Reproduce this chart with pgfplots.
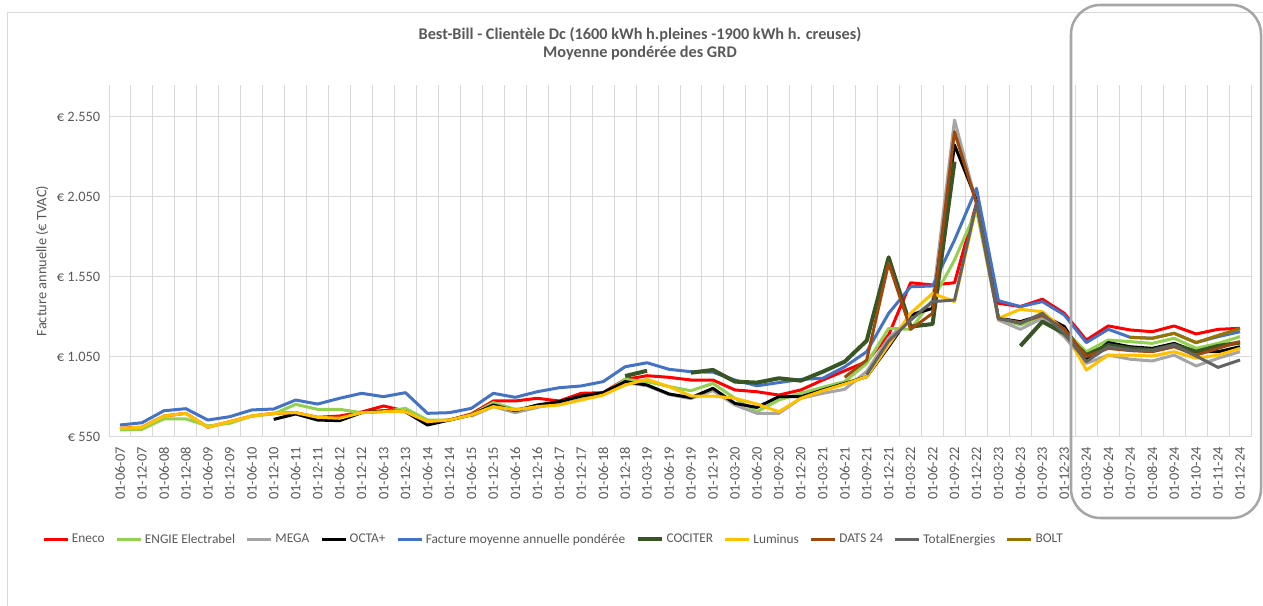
\documentclass[border=0pt]{standalone}
\usepackage{pgfplots}
\pgfplotsset{compat=1.18}
\usepackage{pgfplotstable}
\usepackage{fontspec}
\setmainfont{Carlito}
\definecolor{cEneco}{HTML}{FF0000}
\definecolor{cEngie}{HTML}{92D050}
\definecolor{cMega}{HTML}{A5A5A5}
\definecolor{cOcta}{HTML}{000000}
\definecolor{cAvg}{HTML}{4472C4}
\definecolor{cCociter}{HTML}{375623}
\definecolor{cLuminus}{HTML}{FFC000}
\definecolor{cDats}{HTML}{9E480E}
\definecolor{cTotal}{HTML}{636363}
\definecolor{cBolt}{HTML}{997300}
\definecolor{gridgray}{HTML}{D9D9D9}
\definecolor{labelgray}{HTML}{595959}
\definecolor{framegray}{HTML}{A6A6A6}

\pgfplotstableread{
i eneco engie mega octa avg cociter luminus dats total bolt
0 604 594 nan nan 625 nan 604 nan nan nan
1 611 598 nan nan 639 nan 611 nan nan nan
2 681 663 nan nan 714 nan 681 nan nan nan
3 698 663 nan nan 727 nan 698 nan nan nan
4 611 619 nan nan 656 nan 611 nan nan nan
5 646 636 nan nan 677 nan 646 nan nan nan
6 681 681 nan nan 719 nan 681 nan nan nan
7 698 694 nan 660 725 nan 698 nan nan nan
8 702 754 nan 694 781 nan 702 nan nan nan
9 673 723 nan 656 756 nan 673 nan nan nan
10 681 723 nan 652 792 nan 667 nan nan nan
11 706 702 nan 702 823 nan 702 nan nan nan
12 744 708 nan 714 802 nan 708 nan nan nan
13 712 729 nan 708 827 nan 708 nan nan nan
14 648 656 nan 625 698 nan 646 nan nan nan
15 656 656 nan 656 702 nan 656 nan nan nan
16 694 688 680 688 729 nan 688 nan nan nan
17 775 765 740 750 823 nan 740 nan nan nan
18 775 723 702 714 798 nan 719 nan nan nan
19 792 740 735 750 833 nan 740 nan nan nan
20 775 754 765 771 858 nan 750 nan nan nan
21 823 786 800 806 869 nan 781 nan nan nan
22 827 817 825 827 896 nan 812 nan nan nan
23 910 910 890 896 989 931 875 nan nan nan
24 933 896 870 875 1014 964 910 nan nan nan
25 923 865 815 819 973 nan 865 nan nan nan
26 906 839 790 796 958 952 806 nan nan nan
27 906 885 840 854 955 969 806 nan nan nan
28 844 792 750 760 906 896 792 nan nan nan
29 833 708 698 735 870 890 756 nan nan nan
30 812 781 698 802 890 917 708 nan nan nan
31 844 823 792 802 910 902 792 nan nan nan
32 906 861 823 844 917 958 839 nan nan nan
33 964 896 848 885 989 1021 881 923 nan nan
34 1021 1010 960 927 1083 1152 927 1031 940 nan
35 1188 1229 1169 1114 1323 1673 1125 1636 1150 nan
36 1514 1223 1292 1313 1489 1240 1323 1223 1280 nan
37 1500 1406 1396 1354 1494 1256 1448 1323 1396 nan
38 1514 1656 2531 2375 1781 2271 1396 2458 1406 nan
39 2010 1969 2010 2031 2104 nan 1990 2010 2010 nan
40 1386 1290 1281 1292 1402 nan 1292 1290 1292 nan
41 1365 1250 1223 1271 1365 1119 1348 1265 1260 nan
42 1411 1300 1292 1313 1396 1271 1333 1310 1323 nan
43 1323 1215 1177 1240 1313 1198 1219 1225 1198 nan
44 1156 1083 1010 1031 1140 1062 969 1052 1021 nan
45 1244 1156 1062 1140 1223 1125 1062 1104 1114 nan
46 1219 1146 1036 1114 1173 1104 1062 1090 1094 1173
47 1208 1135 1025 1104 1167 1094 1056 1083 1090 1167
48 1244 1167 1062 1135 1198 1125 1083 1114 1125 1198
49 1194 1104 994 1083 1140 1083 1042 1062 1056 1140
50 1223 1135 1042 1083 1177 1119 1062 1104 985 1185
51 1229 1177 1083 1114 1208 1140 1104 1146 1031 1228
}\data

\begin{document}
\begin{tikzpicture}
\begin{scope}[x=0.75pt,y=0.75pt]
\useasboundingbox (0,0) rectangle (1263,606);
\fill[white] (0,0) rectangle (1263,606);
\draw[gridgray, line width=0.75pt] (7,0) -- (7,593) -- (1263,593);
\end{scope}
\begin{axis}[
  at={(81.75pt,126.75pt)}, anchor=south west,
  width=856.5pt, height=264pt, scale only axis,
  xmin=-0.5, xmax=51.5, ymin=550, ymax=2750,
  xtick={0,...,51},
  xticklabels={01-06-07,01-12-07,01-06-08,01-12-08,01-06-09,01-12-09,01-06-10,01-12-10,01-06-11,01-12-11,01-06-12,01-12-12,01-06-13,01-12-13,01-06-14,01-12-14,01-06-15,01-12-15,01-06-16,01-12-16,01-06-17,01-12-17,01-06-18,01-12-18,01-03-19,01-06-19,01-09-19,01-12-19,01-03-20,01-06-20,01-09-20,01-12-20,01-03-21,01-06-21,01-09-21,01-12-21,01-03-22,01-06-22,01-09-22,01-12-22,01-03-23,01-06-23,01-09-23,01-12-23,01-03-24,01-06-24,01-07-24,01-08-24,01-09-24,01-10-24,01-11-24,01-12-24},
  minor xtick={-0.5,0.5,...,51.5},
  xminorgrids, ymajorgrids,
  ytick={550,1050,1550,2050,2550},
  yticklabels={€ 550,€ 1.050,€ 1.550,€ 2.050,€ 2.550},
  grid style={draw=gridgray, line width=0.75pt},
  minor grid style={draw=gridgray, line width=0.75pt},
  axis line style={draw=none},
  major tick length=0pt, minor tick length=0pt,
  tick label style={font=\fontsize{10.8}{12}\selectfont, text=labelgray},
  xticklabel style={rotate=90, anchor=east},
  xticklabel shift=4pt, yticklabel shift=3pt,
  /pgf/number format/assume math mode=true,
  unbounded coords=jump,
  no markers,
  every axis plot/.append style={line width=2.25pt, line join=round},
  legend columns=10,
  legend style={at={(-0.0622,-0.291)}, anchor=west, draw=none, fill=none,
    font=\fontsize{10}{12}\selectfont, text=labelgray,
    /tikz/every even column/.append style={column sep=6pt}},
  legend image code/.code={\draw[#1] (0pt,0pt) -- (18pt,0pt);},
]
\addplot[color=cEneco] table[x=i,y=eneco]{\data};
\addlegendentry{Eneco}
\addplot[color=cEngie] table[x=i,y=engie]{\data};
\addlegendentry{ENGIE Electrabel}
\addplot[color=cMega] table[x=i,y=mega]{\data};
\addlegendentry{MEGA}
\addplot[color=cOcta] table[x=i,y=octa]{\data};
\addlegendentry{OCTA+}
\addplot[color=cAvg] table[x=i,y=avg]{\data};
\addlegendentry{Facture moyenne annuelle pondérée}
\addplot[color=cCociter, line width=3pt] table[x=i,y=cociter]{\data};
\addlegendentry{COCITER}
\addplot[color=cLuminus] table[x=i,y=luminus]{\data};
\addlegendentry{Luminus}
\addplot[color=cDats] table[x=i,y=dats]{\data};
\addlegendentry{DATS 24}
\addplot[color=cTotal] table[x=i,y=total]{\data};
\addlegendentry{TotalEnergies}
\addplot[color=cBolt] table[x=i,y=bolt]{\data};
\addlegendentry{BOLT}
\end{axis}
\begin{scope}[x=0.75pt,y=0.75pt]
\node[font=\fontsize{12.2}{14}\selectfont\bfseries, text=labelgray] at (640,571) {Best-Bill - Clientèle Dc (1600 kWh h.pleines -1900 kWh h. creuses)};
\node[font=\fontsize{12.2}{14}\selectfont\bfseries, text=labelgray] at (640,553) {Moyenne pondérée des GRD};
\node[rotate=90, font=\fontsize{10.8}{12}\selectfont, text=labelgray] at (42,345) {Facture annuelle (€ TVAC)};
\draw[framegray, line width=1.9pt, rounded corners=22pt] (1071,88) rectangle (1261,601);
\end{scope}
\end{tikzpicture}
\end{document}
